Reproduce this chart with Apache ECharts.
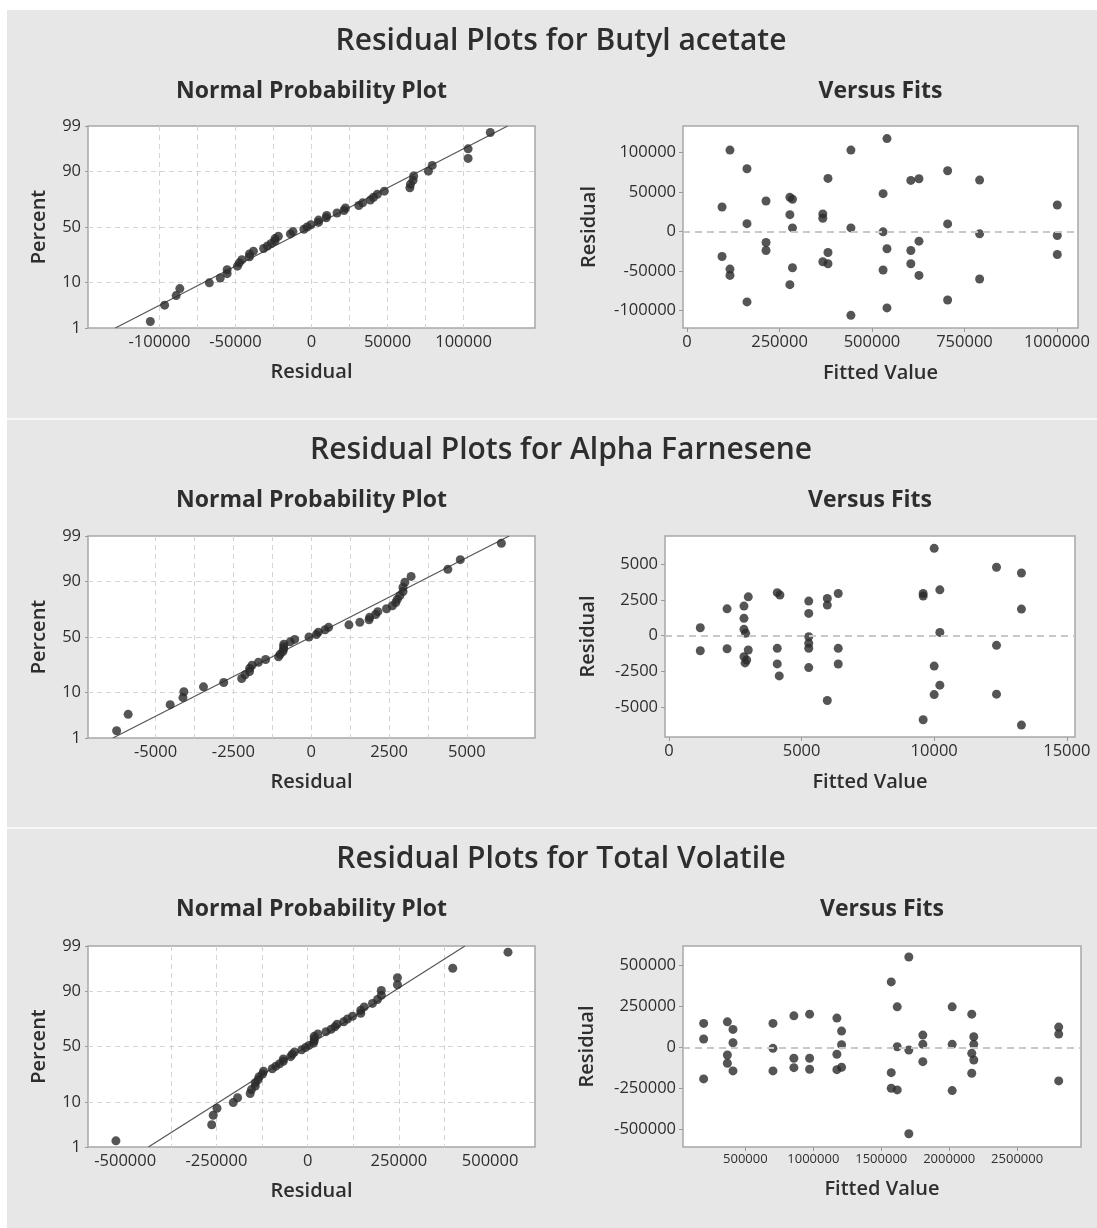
<!DOCTYPE html>
<html><head><meta charset="utf-8">
<script src="https://cdn.jsdelivr.net/npm/echarts@6.0.0/dist/echarts.min.js"></script>
<style>html,body{margin:0;padding:0;background:#fff}#c{width:1097px;height:1228px}</style>
</head><body><div id="c"></div>
<script>
// ---------- DATA ----------
const sectionTitles = ['Residual Plots for Butyl acetate', 'Residual Plots for Alpha Farnesene', 'Residual Plots for Total Volatile'];
const npPercentTicks = [1, 10, 50, 90, 99];
const linePercent = [1, 99];

// Butyl acetate
const butylFitted = [94600,94600,116000,116000,116000,162000,162000,162000,213500,213500,213500,278000,285000,278000,285000,285000,278000,367000,367000,381000,381000,367000,381000,443000,443000,443000,530000,540500,530000,540500,530000,540500,605000,627000,627000,605000,605000,627000,704500,704500,704500,791000,791000,791000,1001000,1001000,1001000];
const butylResidual = [31100,-31500,103000,-47500,-55500,79400,10000,-89000,38700,-13900,-24000,43300,40800,21400,4600,-45800,-67200,22300,16800,67200,-26500,-38200,-40800,103000,4600,-106000,47900,117600,-400,-21800,-48700,-96600,64700,66800,-12200,-24000,-40800,-55500,76900,9700,-86600,65100,-2900,-60000,33600,-5000,-29000];
const butylNpResidual = [-106000,-96600,-89000,-86600,-67200,-60000,-55500,-55500,-48700,-47500,-45800,-40800,-40800,-38200,-31500,-29000,-26500,-24000,-24000,-21800,-13900,-12200,-5000,-2900,-400,4600,4600,9700,10000,16800,21400,22300,31100,33600,38700,40800,43300,47900,64700,65100,66800,67200,76900,79400,103000,103000,117600];
const butylNpPercent = [1.48,3.59,5.70,7.81,9.92,12.03,14.14,16.24,18.35,20.46,22.57,24.68,26.79,28.90,31.01,33.12,35.23,37.34,39.45,41.56,43.67,45.78,47.89,50.00,52.11,54.22,56.33,58.44,60.55,62.66,64.77,66.88,68.99,71.10,73.21,75.32,77.43,79.54,81.65,83.76,85.86,87.97,90.08,92.19,94.30,96.41,98.52];
const butylLineResidual = [-129000, 129000];
const butylNpXTicks = [-100000, -50000, 0, 50000, 100000];
const butylNpXGrid = [-125000,-100000,-75000,-50000,-25000,0,25000,50000,75000,100000,125000];
const butylVfXTicks = [0, 250000, 500000, 750000, 1000000];
const butylVfYTicks = [-100000, -50000, 0, 50000, 100000];

// Alpha Farnesene
const farnFitted = [1181,1181,2190,2190,2990,2828,2828,2828,2892,2990,2828,2930,2870,4083,4183,4083,4083,4158,5270,5270,5270,5270,5270,5270,5970,5970,5970,6382,6382,6382,9585,9585,9585,10000,10000,10000,10214,10214,10214,12350,12350,12350,13290,13290,13290];
const farnResidual = [560,-1050,1880,-910,2720,2071,1213,446,167,-997,-1464,-1695,-1900,3010,2850,-885,-1974,-2810,2420,1562,-70,-530,-879,-2232,2608,2141,-4530,2950,-885,-1980,2950,2770,-5880,6110,-2125,-4120,3210,230,-3460,4790,-675,-4090,4390,1860,-6250];
const farnNpResidual = [-6250,-5880,-4530,-4120,-4090,-3460,-2810,-2232,-2125,-1980,-1974,-1900,-1695,-1464,-1050,-997,-910,-885,-885,-879,-675,-530,-70,167,230,446,560,1213,1562,1860,1880,2071,2141,2420,2608,2720,2770,2850,2950,2950,3010,3210,4390,4790,6110];
const farnNpPercent = [1.54,3.74,5.95,8.15,10.35,12.56,14.76,16.96,19.16,21.37,23.57,25.77,27.97,30.18,32.38,34.58,36.78,38.99,41.19,43.39,45.59,47.80,50.00,52.20,54.41,56.61,58.81,61.01,63.22,65.42,67.62,69.82,72.03,74.23,76.43,78.63,80.84,83.04,85.24,87.44,89.65,91.85,94.05,96.26,98.46];
const farnLineResidual = [-6370, 6360];
const farnNpXTicks = [-5000, -2500, 0, 2500, 5000];
const farnNpXGrid = [-6250,-5000,-3750,-2500,-1250,0,1250,2500,3750,5000,6250];
const farnVfXTicks = [0, 5000, 10000, 15000];
const farnVfYTicks = [-5000, -2500, 0, 2500, 5000];

// Total Volatile
const totalFitted = [193000,193000,193000,367600,367600,367600,408800,408800,408800,703000,703000,703000,857000,857000,857000,972800,972800,972800,1173500,1173500,1173500,1208000,1208000,1208000,1573500,1573500,1573500,1617600,1617600,1617600,1703000,1703000,1703000,1806000,1806000,1806000,2022000,2022000,2022000,2166000,2166000,2166000,2181000,2181000,2181000,2806000,2806000,2806000];
const totalResidual = [145500,50300,-192000,155000,-46700,-97000,109000,27900,-143600,145500,-6000,-143600,191500,-66700,-123600,201800,-66700,-133000,177600,-42400,-135800,98800,15800,-121000,397600,-154000,-248500,246000,3600,-258800,549000,-16400,-525500,74500,18000,-87300,246000,18000,-263000,201800,-36400,-157600,64200,18000,-77000,123000,80600,-204000];
const totalNpResidual = [-525500,-263000,-258800,-248500,-204000,-192000,-157600,-154000,-143600,-143600,-135800,-133000,-123600,-121000,-97000,-87300,-77000,-66700,-66700,-46700,-42400,-36400,-16400,-6000,3600,15800,18000,18000,18000,27900,50300,64200,74500,80600,98800,109000,123000,145500,145500,155000,177600,191500,201800,201800,246000,246000,397600,549000];
const totalNpPercent = [1.45,3.51,5.58,7.64,9.71,11.78,13.84,15.91,17.98,20.04,22.11,24.17,26.24,28.31,30.37,32.44,34.50,36.57,38.64,40.70,42.77,44.83,46.90,48.97,51.03,53.10,55.17,57.23,59.30,61.36,63.43,65.50,67.56,69.63,71.69,73.76,75.83,77.89,79.96,82.02,84.09,86.16,88.22,90.29,92.36,94.42,96.49,98.55];
const totalLineResidual = [-436500, 431000];
const totalNpXTicks = [-500000, -250000, 0, 250000, 500000];
const totalNpXGrid = [-500000,-375000,-250000,-125000,0,125000,250000,375000,500000];
const totalVfXTicks = [500000, 1000000, 1500000, 2000000, 2500000];
const totalVfYTicks = [-500000, -250000, 0, 250000, 500000];

// ---------- PROBABILITY SCALE (inverse normal CDF) ----------
function probit(p) {
  const a=[-3.969683028665376e+01,2.209460984245205e+02,-2.759285104469687e+02,1.383577518672690e+02,-3.066479806614716e+01,2.506628277459239e+00];
  const b=[-5.447609879822406e+01,1.615858368580409e+02,-1.556989798598866e+02,6.680131188771972e+01,-1.328068155288572e+01];
  const c=[-7.784894002430293e-03,-3.223964580411365e-01,-2.400758277161838e+00,-2.549732539343734e+00,4.374664141464968e+00,2.938163982698783e+00];
  const d=[7.784695709041462e-03,3.224671290700398e-01,2.445134137142996e+00,3.754408661907416e+00];
  const pl=0.02425, ph=1-pl; let q, r;
  if (p < pl) { q=Math.sqrt(-2*Math.log(p)); return (((((c[0]*q+c[1])*q+c[2])*q+c[3])*q+c[4])*q+c[5])/((((d[0]*q+d[1])*q+d[2])*q+d[3])*q+1); }
  if (p <= ph) { q=p-0.5; r=q*q; return (((((a[0]*r+a[1])*r+a[2])*r+a[3])*r+a[4])*r+a[5])*q/(((((b[0]*r+b[1])*r+b[2])*r+b[3])*r+b[4])*r+1); }
  q=Math.sqrt(-2*Math.log(1-p)); return -(((((c[0]*q+c[1])*q+c[2])*q+c[3])*q+c[4])*q+c[5])/((((d[0]*q+d[1])*q+d[2])*q+d[3])*q+1);
}
const zTicks = npPercentTicks.map(p => probit(p / 100));
const zMin = zTicks[0], zMax = zTicks[zTicks.length - 1];
function pctLabel(v) {
  for (let i = 0; i < zTicks.length; i++) if (Math.abs(zTicks[i] - v) < 1e-6) return String(npPercentTicks[i]);
  return '';
}

// ---------- STYLE ----------
const FONT = "'Open Sans', 'Noto Sans', sans-serif";
const TC = '#2e2e2e';
const nameStyle = { color: TC, fontSize: 20, fontWeight: 600, fontFamily: FONT };
const gridLine = { show: true, showMinLine: false, showMaxLine: false, lineStyle: { color: '#d4d4d4', width: 1, type: [5, 4] } };
const fmt = v => String(v);
const LBL = 16.5;

const gridBoxes = [
  { left: 88, top: 126, width: 447, height: 202 },
  { left: 683, top: 126, width: 395, height: 202 },
  { left: 88, top: 536, width: 447, height: 202 },
  { left: 665, top: 536, width: 410, height: 201 },
  { left: 88, top: 946, width: 447, height: 201 },
  { left: 683, top: 946, width: 398, height: 201 }
];
const grids = gridBoxes.map(g => Object.assign({ show: true, backgroundColor: '#ffffff', borderColor: '#a8a8a8', borderWidth: 1.5, containLabel: false, outerBoundsMode: 'none' }, g));

function npX(gi, min, max, labels, gridVals) {
  return { type: 'value', gridIndex: gi, min, max, name: 'Residual', nameLocation: 'middle', nameGap: 34, nameMoveOverlap: false, nameTextStyle: nameStyle,
    axisLine: { show: false, onZero: false }, axisTick: { show: false, customValues: gridVals }, splitLine: gridLine,
    axisLabel: { customValues: labels, formatter: fmt, color: TC, fontSize: LBL, fontFamily: FONT, margin: 6 } };
}
function npY(gi) {
  return { type: 'value', gridIndex: gi, min: zMin, max: zMax, name: 'Percent', nameLocation: 'middle', nameGap: 39, nameRotate: 90, nameMoveOverlap: false, nameTextStyle: nameStyle,
    axisLine: { show: false, onZero: false }, axisTick: { show: true, length: 3, customValues: zTicks, lineStyle: { color: '#9a9a9a' } }, splitLine: gridLine,
    axisLabel: { customValues: zTicks, formatter: pctLabel, color: TC, fontSize: LBL, fontFamily: FONT, margin: 7 } };
}
function vfX(gi, min, max, labels, fs, gap) {
  return { type: 'value', gridIndex: gi, min, max, name: 'Fitted Value', nameLocation: 'middle', nameGap: gap, nameMoveOverlap: false, nameTextStyle: nameStyle,
    axisLine: { show: false, onZero: false }, axisTick: { show: true, length: 4, customValues: labels, lineStyle: { color: '#9a9a9a' } }, splitLine: { show: false },
    axisLabel: { customValues: labels, formatter: fmt, color: TC, fontSize: fs, fontFamily: FONT, margin: 6 } };
}
function vfY(gi, min, max, labels, gap) {
  return { type: 'value', gridIndex: gi, min, max, name: 'Residual', nameLocation: 'middle', nameGap: gap, nameRotate: 90, nameMoveOverlap: false, nameTextStyle: nameStyle,
    axisLine: { show: false, onZero: false }, axisTick: { show: true, length: 4, customValues: labels, lineStyle: { color: '#9a9a9a' } }, splitLine: { show: false },
    axisLabel: { customValues: labels, formatter: fmt, color: TC, fontSize: LBL, fontFamily: FONT, margin: 7 } };
}

const xAxes = [
  npX(0, -147000, 147000, butylNpXTicks, butylNpXGrid),
  vfX(1, -11000, 1057000, butylVfXTicks, LBL, 35),
  npX(2, -7170, 7190, farnNpXTicks, farnNpXGrid),
  vfX(3, -150, 15310, farnVfXTicks, LBL, 35),
  npX(4, -602000, 623000, totalNpXTicks, totalNpXGrid),
  vfX(5, 41000, 2970000, totalVfXTicks, 13, 32)
];
const yAxes = [
  npY(0),
  vfY(1, -122000, 133500, butylVfYTicks, 84),
  npY(2),
  vfY(3, -7085, 6975, farnVfYTicks, 67),
  npY(4),
  vfY(5, -606000, 616000, totalVfYTicks, 86)
];

const DOT = '#2a2a2a';
function npSeries(gi, resid, pct, lineResid) {
  return [
    { type: 'line', xAxisIndex: gi, yAxisIndex: gi, data: lineResid.map((r, i) => [r, probit(linePercent[i] / 100)]),
      showSymbol: false, symbol: 'none', silent: true, z: 2, lineStyle: { color: '#555555', width: 1.2 } },
    { type: 'scatter', xAxisIndex: gi, yAxisIndex: gi, data: resid.map((r, i) => [r, probit(pct[i] / 100)]),
      symbolSize: 9, silent: true, z: 3, itemStyle: { color: DOT } }
  ];
}
function vfSeries(gi, fitted, resid) {
  return [{ type: 'scatter', xAxisIndex: gi, yAxisIndex: gi, data: fitted.map((f, i) => [f, resid[i]]),
    symbolSize: 9, silent: true, z: 3, itemStyle: { color: DOT },
    markLine: { silent: true, symbol: ['none', 'none'], label: { show: false }, animation: false,
      lineStyle: { color: '#c8c8c8', width: 2, type: [7, 5] }, data: [{ yAxis: 0 }] } }];
}

const series = [].concat(
  npSeries(0, butylNpResidual, butylNpPercent, butylLineResidual),
  vfSeries(1, butylFitted, butylResidual),
  npSeries(2, farnNpResidual, farnNpPercent, farnLineResidual),
  vfSeries(3, farnFitted, farnResidual),
  npSeries(4, totalNpResidual, totalNpPercent, totalLineResidual),
  vfSeries(5, totalFitted, totalResidual)
);

const titles = [];
sectionTitles.forEach((t, s) => {
  const off = 409 * s;
  const gL = gridBoxes[2 * s], gR = gridBoxes[2 * s + 1];
  titles.push({ text: t, left: 561, top: 41 + off, textAlign: 'center', textVerticalAlign: 'middle', padding: 0,
    textStyle: { color: TC, fontSize: 30, fontWeight: 600, fontFamily: FONT } });
  titles.push({ text: 'Normal Probability Plot', left: gL.left + gL.width / 2, top: 91 + off, textAlign: 'center', textVerticalAlign: 'middle', padding: 0,
    textStyle: { color: TC, fontSize: 23, fontWeight: 700, fontFamily: FONT } });
  titles.push({ text: 'Versus Fits', left: gR.left + gR.width / 2, top: 91 + off, textAlign: 'center', textVerticalAlign: 'middle', padding: 0,
    textStyle: { color: TC, fontSize: 23, fontWeight: 700, fontFamily: FONT } });
});

const chart = echarts.init(document.getElementById('c'), null, { renderer: 'canvas' });
chart.setOption({
  animation: false,
  backgroundColor: '#e7e7e8',
  title: titles,
  grid: grids,
  xAxis: xAxes,
  yAxis: yAxes,
  series: series,
  graphic: [
    { type: 'rect', shape: { x: 0, y: 0, width: 1097, height: 10 }, style: { fill: '#ffffff' }, silent: true },
    { type: 'rect', shape: { x: 0, y: 0, width: 7, height: 1228 }, style: { fill: '#ffffff' }, silent: true },
    { type: 'rect', shape: { x: 7, y: 418, width: 1090, height: 2 }, style: { fill: '#f7f7f7' }, silent: true },
    { type: 'rect', shape: { x: 7, y: 827, width: 1090, height: 2 }, style: { fill: '#f7f7f7' }, silent: true }
  ]
});
</script></body></html>
